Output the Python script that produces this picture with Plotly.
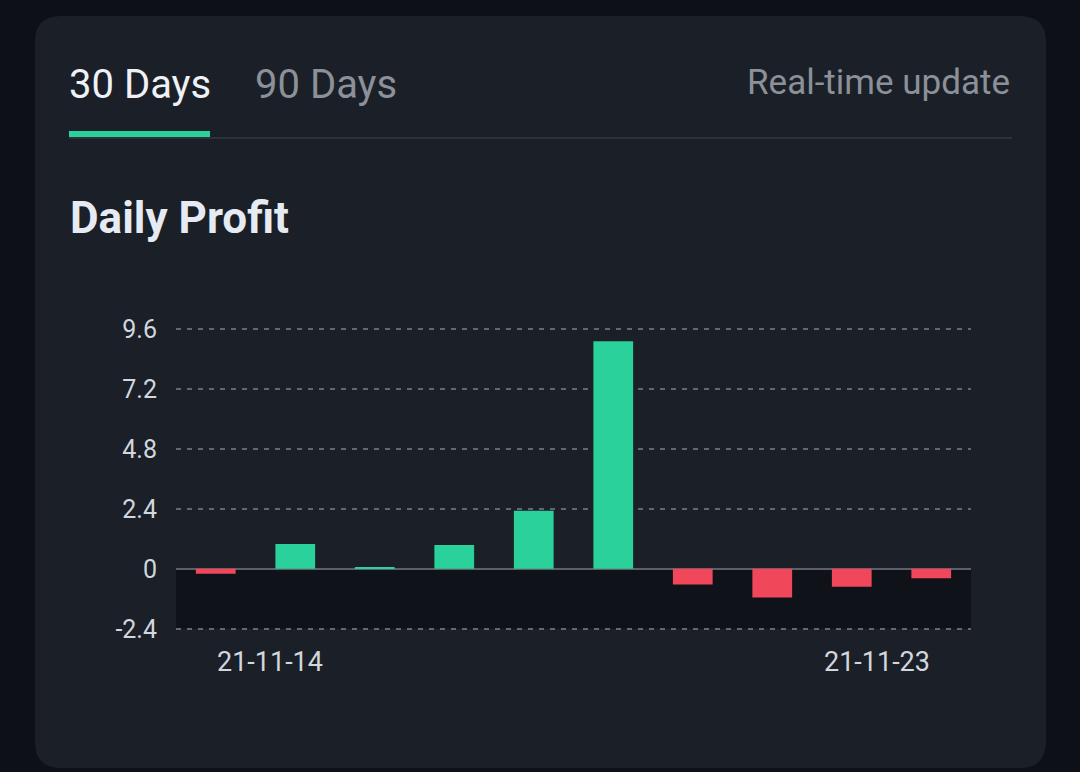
import plotly.graph_objects as go

dates = ["21-11-14", "21-11-15", "21-11-16", "21-11-17", "21-11-18",
         "21-11-19", "21-11-20", "21-11-21", "21-11-22", "21-11-23"]
profit = [-0.2, 1.0, 0.07, 0.96, 2.33, 9.12, -0.63, -1.15, -0.72, -0.38]
y_ticks = [-2.4, 0, 2.4, 4.8, 7.2, 9.6]
y_tick_text = ["-2.4", "0", "2.4", "4.8", "7.2", "9.6"]

GREEN = "#2bd19a"
RED = "#f1475b"
colors = [GREEN if v >= 0 else RED for v in profit]

W, H = 1080, 772
ML, MR, MT, MB = 176, 109, 328, 142
PW, PH = W - ML - MR, H - MT - MB


def px(x):
    return (x - ML) / PW


def py(y):
    return (H - MB - y) / PH


def rounded_rect(x0, y0, x1, y1, r):
    pts = [
        f"M {px(x0 + r)} {py(y0)}",
        f"L {px(x1 - r)} {py(y0)}",
        f"Q {px(x1)} {py(y0)} {px(x1)} {py(y0 + r)}",
        f"L {px(x1)} {py(y1 - r)}",
        f"Q {px(x1)} {py(y1)} {px(x1 - r)} {py(y1)}",
        f"L {px(x0 + r)} {py(y1)}",
        f"Q {px(x0)} {py(y1)} {px(x0)} {py(y1 - r)}",
        f"L {px(x0)} {py(y0 + r)}",
        f"Q {px(x0)} {py(y0)} {px(x0 + r)} {py(y0)}",
        "Z",
    ]
    return " ".join(pts)


fig = go.Figure()
fig.add_trace(go.Bar(
    x=dates, y=profit, marker=dict(color=colors, line=dict(width=0)),
    width=0.5, hoverinfo="x+y",
))

shapes = [
    dict(type="path", xref="paper", yref="paper",
         path=rounded_rect(35, 16, 1046, 768, 26),
         fillcolor="#1b1f27", line=dict(width=0), layer="below"),
    dict(type="rect", xref="paper", yref="y", x0=0, x1=1, y0=-2.4, y1=0,
         fillcolor="#10121a", line=dict(width=0), layer="below"),
    dict(type="line", xref="paper", yref="paper",
         x0=px(69), x1=px(1012), y0=py(138), y1=py(138),
         line=dict(color="#2d313a", width=2)),
    dict(type="rect", xref="paper", yref="paper",
         x0=px(69), x1=px(210), y0=py(131), y1=py(137),
         fillcolor=GREEN, line=dict(width=0)),
]

annotations = [
    dict(text="30 Days", x=px(67), y=py(84), xref="paper", yref="paper",
         xanchor="left", yanchor="middle", showarrow=False,
         font=dict(family="Roboto", size=40, color="#eef1f6")),
    dict(text="90 Days", x=px(253), y=py(84), xref="paper", yref="paper",
         xanchor="left", yanchor="middle", showarrow=False,
         font=dict(family="Roboto", size=40, color="#8b9099")),
    dict(text="Real-time update", x=px(1012), y=py(82), xref="paper", yref="paper",
         xanchor="right", yanchor="middle", showarrow=False,
         font=dict(family="Roboto", size=35, color="#8b9099")),
    dict(text="<b>Daily Profit</b>", x=px(68), y=py(218), xref="paper", yref="paper",
         xanchor="left", yanchor="middle", showarrow=False,
         font=dict(family="Roboto", size=44, color="#e6ebf3")),
    dict(text=dates[0], x=dates[0], xshift=-1, y=py(662), xref="x", yref="paper",
         xanchor="left", yanchor="middle", showarrow=False,
         font=dict(family="Roboto", size=27, color="#d2d6dd")),
    dict(text=dates[-1], x=dates[-1], xshift=1, y=py(662), xref="x", yref="paper",
         xanchor="right", yanchor="middle", showarrow=False,
         font=dict(family="Roboto", size=27, color="#d2d6dd")),
]

fig.update_layout(
    width=W, height=H,
    margin=dict(l=ML, r=MR, t=MT, b=MB),
    paper_bgcolor="#0d1016",
    plot_bgcolor="rgba(0,0,0,0)",
    showlegend=False,
    shapes=shapes,
    annotations=annotations,
    bargap=0.5,
    xaxis=dict(type="category", showticklabels=False, showgrid=False,
               zeroline=False, showline=False, ticks=""),
    yaxis=dict(range=[-2.45, 9.65], tickvals=y_ticks, ticktext=y_tick_text,
               showgrid=True, gridcolor="#62666e", griddash="5px,6px", gridwidth=2,
               zeroline=True, zerolinecolor="#5c6068", zerolinewidth=2,
               showline=False, ticks="", ticklabelstandoff=18,
               tickfont=dict(family="Roboto", size=25, color="#d2d6dd")),
)

fig.write_html(
    "out.html",
    config={"displayModeBar": False},
    post_script="document.body.style.margin='0';document.body.style.background='#0d1016';",
)
